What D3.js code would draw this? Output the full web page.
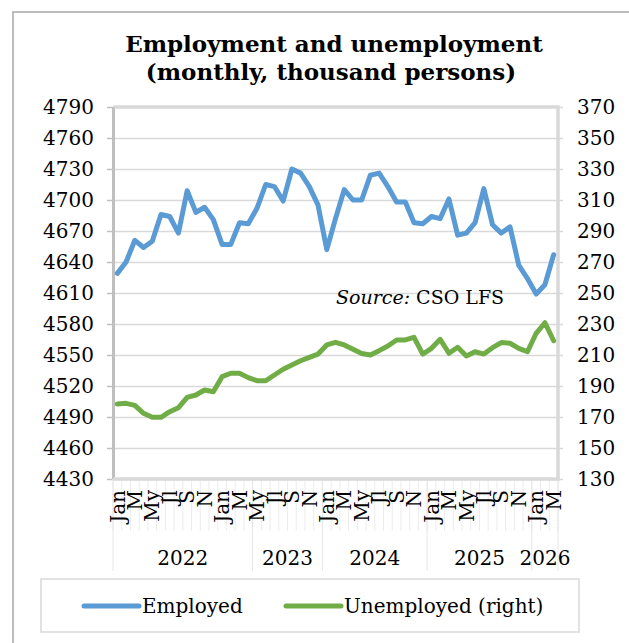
<!DOCTYPE html>
<html>
<head>
<meta charset="utf-8">
<script src="https://cdn.jsdelivr.net/npm/d3@7"></script>
<style>
  body { margin: 0; background: #fff; }
  svg { display: block; font-family: "DejaVu Serif", serif; }
</style>
</head>
<body>
<svg width="629" height="643"></svg>
<script>
// monthly values, Jan 2022 .. Mar 2026 (thousand persons)
var employed = [
  4629, 4640, 4661, 4654, 4660, 4686, 4684, 4668, 4709, 4688, 4693, 4681,
  4657, 4657, 4678, 4677, 4692, 4715, 4713, 4699, 4730, 4726, 4713, 4695,
  4652, 4682, 4710, 4700, 4700, 4724, 4726, 4713, 4698, 4698, 4678, 4677,
  4684, 4682, 4701, 4666, 4668, 4678, 4711, 4676, 4668, 4674, 4637, 4624,
  4609, 4618, 4647
];
var unemployed = [
  178.4, 178.8, 177.5, 172.4, 169.8, 169.8, 173.4, 176.0, 182.7, 184.2, 187.4, 186.3,
  196.0, 198.2, 198.2, 195.4, 193.4, 193.4, 197.1, 200.8, 203.5, 206.3, 208.5, 210.6,
  216.5, 218.2, 216.5, 213.7, 211.0, 210.0, 212.8, 215.8, 219.7, 219.7, 221.4, 210.6,
  214.3, 220.1, 211.1, 215.0, 209.4, 212.1, 210.6, 214.7, 218.0, 217.6, 214.3, 212.1,
  224.0, 230.8, 219.2
];
var monthLabels = [
  "Jan", "", "M", "", "My", "", "Jl", "", "S", "", "N", "",
  "Jan", "", "M", "", "My", "", "Jl", "", "S", "", "N", "",
  "Jan", "", "M", "", "My", "", "Jl", "", "S", "", "N", "",
  "Jan", "", "M", "", "My", "", "Jl", "", "S", "", "N", "",
  "Jan", "", "M"
];
// second level of the category axis: label and first category of each group
var yearLabels = ["2022", "2023", "2024", "2025", "2026"];
var yearStarts = [0, 16, 24, 36, 48];
var leftTicks = [4430, 4460, 4490, 4520, 4550, 4580, 4610, 4640, 4670, 4700, 4730, 4760, 4790];
var rightTicks = [130, 150, 170, 190, 210, 230, 250, 270, 290, 310, 330, 350, 370];
var seriesNames = ["Employed", "Unemployed (right)"];
var seriesColors = ["#5b9bd5", "#70ad47"];

(function () {
  'use strict';

  var svg = d3.select("svg");

  var plot = { left: 113, right: 558, top: 107, bottom: 479 };

  var x = d3.scaleBand()
      .domain(d3.range(employed.length))
      .range([plot.left, plot.right]);

  var yLeft = d3.scaleLinear()
      .domain([leftTicks[0], leftTicks[leftTicks.length - 1]])
      .range([plot.bottom, plot.top]);

  var yRight = d3.scaleLinear()
      .domain([rightTicks[0], rightTicks[rightTicks.length - 1]])
      .range([plot.bottom, plot.top]);

  function cx(i) { return x(i) + x.bandwidth() / 2; }

  // outer chart frame (only left and top edges are in view)
  svg.append("path")
      .attr("d", "M13,643V12H629")
      .attr("fill", "none")
      .attr("stroke", "#a6a6a6")
      .attr("stroke-width", 1.5);

  // title
  var title = svg.append("text")
      .attr("text-anchor", "middle")
      .attr("font-weight", "bold")
      .attr("font-size", 23)
      .attr("fill", "#000");
  title.append("tspan").attr("x", 334).attr("y", 52).text("Employment and unemployment");
  title.append("tspan").attr("x", 331).attr("y", 80).text("(monthly, thousand persons)");

  //gridlines
  svg.append("g")
      .attr("transform", "translate(" + plot.left + ",0)")
      .call(d3.axisLeft(yLeft).tickValues(leftTicks).tickSize(-(plot.right - plot.left)).tickFormat(""))
      .call(function(g) { g.select(".domain").remove(); })
      .selectAll("line")
        .attr("stroke", "#d9d9d9")
        .attr("stroke-width", 1.5);

  // plot border top and right
  svg.append("path")
      .attr("d", "M" + plot.left + "," + plot.top + "H" + plot.right + "V" + plot.bottom)
      .attr("fill", "none")
      .attr("stroke", "#d9d9d9")
      .attr("stroke-width", 3.5);

  // left axis
  var gl = svg.append("g")
      .attr("transform", "translate(" + plot.left + ",0)")
      .call(d3.axisLeft(yLeft).tickValues(leftTicks).tickFormat(d3.format("d"))
        .tickSize(6).tickPadding(13).tickSizeOuter(0));
  gl.select(".domain").attr("stroke", "#bfbfbf").attr("stroke-width", 3);
  gl.selectAll(".tick line").attr("stroke", "#bfbfbf").attr("stroke-width", 1.5);
  gl.selectAll(".tick text").attr("font-size", 20).attr("font-family", "DejaVu Serif").attr("fill", "#000");

  // right axis
  var gr = svg.append("g")
      .attr("transform", "translate(" + plot.right + ",0)")
      .call(d3.axisRight(yRight).tickValues(rightTicks).tickFormat(d3.format("d"))
        .tickSize(5).tickPadding(14).tickSizeOuter(0));
  gr.select(".domain").remove();
  gr.selectAll(".tick line").attr("stroke", "#d9d9d9").attr("stroke-width", 1.5);
  gr.selectAll(".tick text").attr("font-size", 20).attr("font-family", "DejaVu Serif").attr("fill", "#000");

  // category axis: divider lines between months and between year groups
  var bounds = d3.range(employed.length + 1).map(function(i) {
    return i < employed.length ? x(i) : plot.right;
  });
  svg.append("g").selectAll("line")
      .data(bounds)
      .enter().append("line")
        .attr("x1", function(d) { return d; })
        .attr("x2", function(d) { return d; })
        .attr("y1", plot.bottom)
        .attr("y2", 531)
        .attr("stroke", "#ececec")
        .attr("stroke-width", 1);

  var yearBounds = yearStarts.map(function(s) { return x(s); }).concat([plot.right]);
  svg.append("g").selectAll("line")
      .data(yearBounds)
      .enter().append("line")
        .attr("x1", function(d) { return d; })
        .attr("x2", function(d) { return d; })
        .attr("y1", plot.bottom)
        .attr("y2", 571)
        .attr("stroke", "#e6e6e6")
        .attr("stroke-width", 1);

  svg.append("line")
      .attr("x1", plot.left)
      .attr("x2", plot.right + 2)
      .attr("y1", plot.bottom)
      .attr("y2", plot.bottom)
      .attr("stroke", "#d9d9d9")
      .attr("stroke-width", 3.5);

  svg.append("g").selectAll("text")
      .data(monthLabels)
      .enter().append("text")
        .attr("transform", function(d, i) { return "translate(" + cx(i) + ",490) rotate(-90)"; })
        .attr("dy", "0.36em")
        .attr("text-anchor", "end")
        .attr("font-size", 20)
        .attr("fill", "#000")
        .text(function(d) { return d; });

  svg.append("g").selectAll("text")
      .data(yearLabels)
      .enter().append("text")
        .attr("x", function(d, i) { return (yearBounds[i] + yearBounds[i + 1]) / 2; })
        .attr("y", 565)
        .attr("text-anchor", "middle")
        .attr("font-size", 20)
        .attr("fill", "#000")
        .text(function(d) { return d; });

  // series lines
  var lineLeft = d3.line()
      .x(function(d, i) { return cx(i); })
      .y(function(d) { return yLeft(d); });
  var lineRight = d3.line()
      .x(function(d, i) { return cx(i); })
      .y(function(d) { return yRight(d); });

  svg.append("path")
      .datum(unemployed)
      .attr("d", lineRight)
      .attr("fill", "none")
      .attr("stroke", seriesColors[1])
      .attr("stroke-width", 5)
      .attr("stroke-linejoin", "round")
      .attr("stroke-linecap", "round");

  svg.append("path")
      .datum(employed)
      .attr("d", lineLeft)
      .attr("fill", "none")
      .attr("stroke", seriesColors[0])
      .attr("stroke-width", 5)
      .attr("stroke-linejoin", "round")
      .attr("stroke-linecap", "round");

  // source note
  var src = svg.append("text")
      .attr("x", 336)
      .attr("y", 304)
      .attr("font-size", 19)
      .attr("fill", "#000");
  src.append("tspan").attr("font-style", "italic").text("Source:");
  src.append("tspan").text(" CSO LFS");

  // legend
  svg.append("rect")
      .attr("x", 41)
      .attr("y", 579)
      .attr("width", 538)
      .attr("height", 53)
      .attr("fill", "#fff")
      .attr("stroke", "#d9d9d9")
      .attr("stroke-width", 1.5);

  var legendX = [84, 286];
  var leg = svg.append("g").selectAll("g")
      .data(seriesNames)
      .enter().append("g")
        .attr("transform", function(d, i) { return "translate(" + legendX[i] + ",606)"; });
  leg.append("line")
      .attr("x1", 0)
      .attr("x2", 55)
      .attr("stroke", function(d, i) { return seriesColors[i]; })
      .attr("stroke-width", 5)
      .attr("stroke-linecap", "round");
  leg.append("text")
      .attr("x", 58)
      .attr("y", 7)
      .attr("font-size", 20)
      .attr("fill", "#000")
      .text(function(d) { return d; });

}());
</script>
</body>
</html>
